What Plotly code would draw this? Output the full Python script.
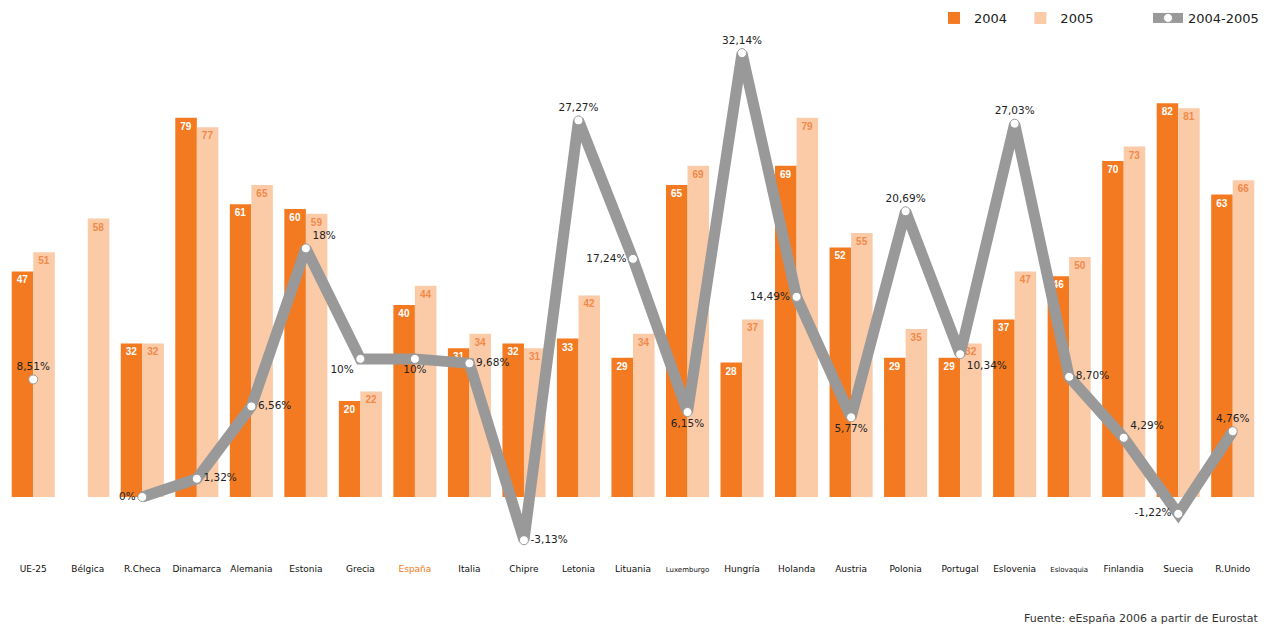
import plotly.graph_objects as go

countries = ["UE-25", "Bélgica", "R.Checa", "Dinamarca", "Alemania", "Estonia", "Grecia",
             "España", "Italia", "Chipre", "Letonia", "Lituania", "Luxemburgo", "Hungría",
             "Holanda", "Austria", "Polonia", "Portugal", "Eslovenia", "Eslovaquia",
             "Finlandia", "Suecia", "R.Unido"]
v2004 = [47, None, 32, 79, 61, 60, 20, 40, 31, 32, 33, 29, 65, 28, 69, 52, 29, 29, 37, 46, 70, 82, 63]
v2005 = [51, 58, 32, 77, 65, 59, 22, 44, 34, 31, 42, 34, 69, 37, 79, 55, 35, 32, 47, 50, 73, 81, 66]
growth = [8.51, None, 0, 1.32, 6.56, 18, 10, 10, 9.68, -3.13, 27.27, 17.24, 6.15, 32.14,
          14.49, 5.77, 20.69, 10.34, 27.03, 8.70, 4.29, -1.22, 4.76]
growth_labels = ["8,51%", "", "0%", "1,32%", "6,56%", "18%", "10%", "10%", "9,68%", "-3,13%",
                 "27,27%", "17,24%", "6,15%", "32,14%", "14,49%", "5,77%", "20,69%", "10,34%",
                 "27,03%", "8,70%", "4,29%", "-1,22%", "4,76%"]
growth_pos = ["top center", "top center", "middle left", "middle right", "middle right", "top right",
              "bottom left", "bottom center", "middle right", "middle right", "top center",
              "middle left", "bottom center", "top center", "middle left", "bottom center",
              "top center", "bottom right", "top center", "middle right", "top right",
              "middle left", "top center"]

ORANGE = "#F37A21"
PEACH = "#FBCBA8"
GRAY = "#999999"
FONT = "Liberation Sans, Arial, sans-serif"
WIDE = "DejaVu Sans, Verdana, sans-serif"
NB = "\u00a0"

ticktext = []
for c in countries:
    if c == "España":
        ticktext.append("<span style='color:#F37A21'>España</span>")
    elif c in ("Luxemburgo", "Eslovaquia"):
        ticktext.append("<span style='font-size:7px'>%s</span>" % c)
    else:
        ticktext.append(c)

ML, MR, MT, MB = 6, 12, 40, 70
H = 632
plot_h = H - MT - MB
plot_w = 1272 - ML - MR

fig = go.Figure()
fig.add_trace(go.Bar(
    x=countries, y=v2004, name="2004" + NB * 2, marker=dict(color=ORANGE, line=dict(width=0)),
    text=[("" if v is None else str(v)) for v in v2004], textposition="inside",
    insidetextanchor="end", textangle=0, constraintext="none",
    textfont=dict(color="white", size=10, family=FONT, weight="bold"),
))
fig.add_trace(go.Bar(
    x=countries, y=v2005, name="2005" + NB * 12, marker=dict(color=PEACH, line=dict(width=0)),
    text=[str(v) for v in v2005], textposition="inside",
    insidetextanchor="end", textangle=0, constraintext="none",
    textfont=dict(color="#F08A4B", size=10, family=FONT, weight="bold"),
))
fig.add_trace(go.Scatter(
    x=countries, y=growth, name="2004-2005", yaxis="y2", mode="lines+markers+text",
    line=dict(color=GRAY, width=11), connectgaps=False,
    marker=dict(color="white", size=9, line=dict(color=GRAY, width=1)),
    text=growth_labels, textposition=growth_pos,
    textfont=dict(color="#222222", size=10.5, family=WIDE),
    cliponaxis=False,
))

fig.update_layout(
    width=1272, height=H,
    margin=dict(l=ML, r=MR, t=MT, b=MB, autoexpand=False),
    paper_bgcolor="white", plot_bgcolor="white",
    barmode="group", bargap=0.21, bargroupgap=0,
    font=dict(family=FONT, color="#222222"),
    xaxis=dict(tickmode="array", tickvals=countries, ticktext=ticktext,
               tickfont=dict(size=9, color="#111111", family=WIDE),
               showgrid=False, zeroline=False, showline=False, ticks="",
               range=[-0.5, 22.5]),
    yaxis=dict(range=[-13.54, 95.2], visible=False, showgrid=False, zeroline=False),
    yaxis2=dict(range=[-13.54 * 4.80 / 13.81, 95.2 * 4.80 / 13.81], overlaying="y",
                visible=False, showgrid=False, zeroline=False),
    legend=dict(orientation="h", x=(1264 - ML) / plot_w, xanchor="right",
                y=1 + (MT - 18) / plot_h, yanchor="middle",
                font=dict(size=13, family=WIDE, color="#222222"),
                bgcolor="rgba(0,0,0,0)"),
    showlegend=True,
    annotations=[dict(text="Fuente: eEspaña 2006 a partir de Eurostat", x=1.0, xref="paper",
                      xanchor="right", y=-(618 - (H - MB)) / plot_h, yref="paper",
                      yanchor="middle", showarrow=False,
                      font=dict(size=11, color="#333333", family=WIDE))],
)

fig.write_html("out.html")
